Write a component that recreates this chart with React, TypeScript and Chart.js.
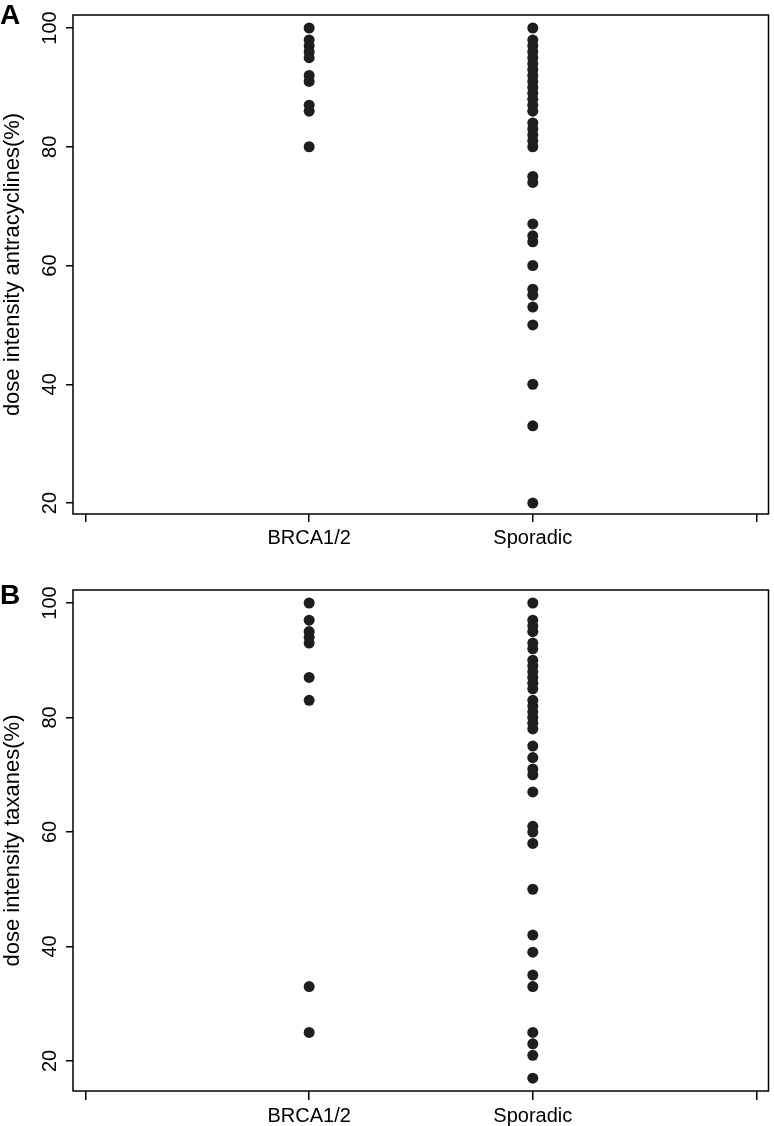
import React, { useEffect, useRef } from "react";
import { Chart, registerables } from "chart.js";

Chart.register(...registerables);

// ---------- data ----------
const categories = ["BRCA1/2", "Sporadic"];
const xTickPositions = [0, 1, 2, 3];
const yTicks = [20, 40, 60, 80, 100];

const antraBRCA = [100, 98, 97, 96, 95, 92, 91, 87, 86, 80];
const antraSporadic = [
  100, 98, 97, 96, 95, 94, 93, 92, 91, 90, 89, 88, 87, 86, 84, 83, 82, 81, 80,
  75, 74, 67, 65, 64, 60, 56, 55, 53, 50, 40, 33, 20,
];

const taxBRCA = [100, 97, 95, 94, 93, 87, 83, 33, 25];
const taxSporadic = [
  100, 97, 96, 95, 93, 92, 90, 89, 88, 87, 86, 85, 83, 82, 81, 80, 79, 78, 75,
  73, 71, 70, 67, 61, 60, 58, 50, 42, 39, 35, 33, 25, 23, 21, 17,
];

const FONT = '"Liberation Sans", Arial, Helvetica, sans-serif';

function toPoints(values: number[], catIndex: number) {
  return values.map((v) => ({ x: catIndex + 1, y: v }));
}

const framePlugin = {
  id: "frame",
  afterDraw(chart: any, _args: any, opts: any) {
    const { ctx, chartArea } = chart;
    const { left, top, right, bottom } = chartArea;
    ctx.save();
    ctx.strokeStyle = "#000";
    ctx.lineWidth = 1.5;
    ctx.strokeRect(left, top, right - left, bottom - top);

    const ys = chart.scales.y;
    ctx.fillStyle = "#000";
    ctx.font = `20px ${FONT}`;
    ctx.textAlign = "center";
    ctx.textBaseline = "alphabetic";
    yTicks.forEach((v) => {
      const py = ys.getPixelForValue(v);
      ctx.save();
      ctx.translate(opts.labelX, py);
      ctx.rotate(-Math.PI / 2);
      ctx.fillText(String(v), 0, 0);
      ctx.restore();
    });

    ctx.font = `bold 28px ${FONT}`;
    ctx.textAlign = "left";
    ctx.fillText(opts.letter, 0, opts.letterBaseline);
    ctx.restore();
  },
};

type PanelProps = {
  top: number;
  height: number;
  padTop: number;
  xAxisHeight: number;
  xTickLen: number;
  yMin: number;
  yMax: number;
  yTitle: string;
  letter: string;
  letterBaseline: number;
  brca: number[];
  sporadic: number[];
};

function Panel(p: PanelProps) {
  const ref = useRef<HTMLCanvasElement>(null);
  useEffect(() => {
    if (!ref.current) return;
    const pointStyle = {
      showLine: false,
      pointRadius: 5.5,
      pointHoverRadius: 5.5,
      pointBackgroundColor: "#1e1e1e",
      pointBorderWidth: 0,
      pointBorderColor: "#1e1e1e",
      backgroundColor: "#1e1e1e",
      borderColor: "#1e1e1e",
    };
    const chart = new Chart(ref.current, {
      type: "scatter",
      data: {
        datasets: [
          { label: categories[0], data: toPoints(p.brca, 0), ...pointStyle },
          { label: categories[1], data: toPoints(p.sporadic, 1), ...pointStyle },
        ],
      },
      options: {
        responsive: false,
        animation: false,
        events: [],
        layout: { padding: { top: p.padTop, right: 5, left: 0, bottom: 0 } },
        plugins: {
          legend: { display: false },
          tooltip: { enabled: false },
          frame: { letter: p.letter, letterBaseline: p.letterBaseline, labelX: 55.5 },
        } as any,
        scales: {
          x: {
            type: "linear",
            min: -0.056,
            max: 3.054,
            afterBuildTicks: (s: any) => {
              s.ticks = xTickPositions.map((v) => ({ value: v }));
            },
            afterFit: (s: any) => {
              s.height = p.xAxisHeight;
            },
            grid: {
              display: true,
              drawOnChartArea: false,
              drawTicks: true,
              tickLength: p.xTickLen,
              color: "#000",
              lineWidth: 1.5,
            },
            border: { display: false },
            ticks: {
              callback: (v: any) => categories[Number(v) - 1] ?? "",
              font: { family: FONT, size: 20 },
              color: "#000",
              padding: 4,
              maxRotation: 0,
              minRotation: 0,
              autoSkip: false,
            },
          },
          y: {
            type: "linear",
            min: p.yMin,
            max: p.yMax,
            afterBuildTicks: (s: any) => {
              s.ticks = yTicks.map((v) => ({ value: v }));
            },
            afterFit: (s: any) => {
              s.width = 73;
            },
            grid: {
              display: true,
              drawOnChartArea: false,
              drawTicks: true,
              tickLength: 7,
              color: "#000",
              lineWidth: 1.5,
            },
            border: { display: false },
            ticks: { display: false },
            title: {
              display: true,
              text: p.yTitle,
              font: { family: FONT, size: 22 },
              color: "#000",
              padding: 0,
            },
          },
        },
      },
      plugins: [framePlugin as any],
    } as any);
    return () => chart.destroy();
  }, []);
  return (
    <canvas
      ref={ref}
      width={774}
      height={p.height}
      style={{ position: "absolute", left: 0, top: p.top, width: 774, height: p.height, display: "block" }}
    />
  );
}

export default function App() {
  return (
    <div style={{ position: "absolute", left: 0, top: 0, width: 774, height: 1126, background: "#fff", overflow: "hidden" }}>
      <Panel
        top={0}
        height={560}
        padTop={15}
        xAxisHeight={46}
        xTickLen={8}
        yMin={18.15}
        yMax={102.19}
        yTitle="dose intensity antracyclines(%)"
        letter="A"
        letterBaseline={24}
        brca={antraBRCA}
        sporadic={antraSporadic}
      />
      <Panel
        top={560}
        height={566}
        padTop={30}
        xAxisHeight={35}
        xTickLen={9}
        yMin={14.76}
        yMax={102.27}
        yTitle="dose intensity taxanes(%)"
        letter="B"
        letterBaseline={44}
        brca={taxBRCA}
        sporadic={taxSporadic}
      />
    </div>
  );
}
